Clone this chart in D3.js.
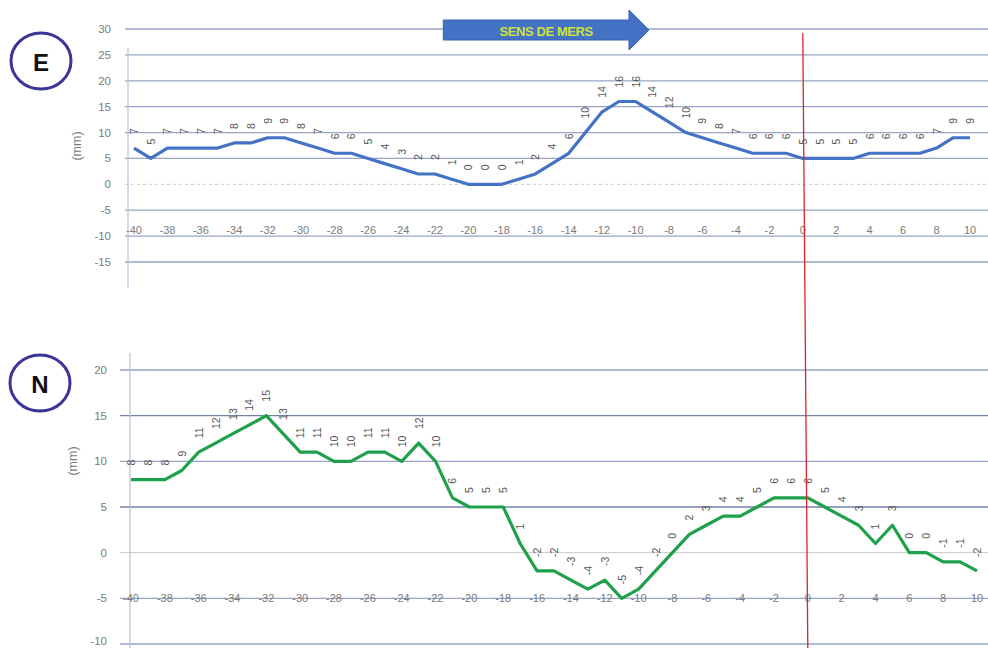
<!DOCTYPE html>
<html>
<head>
<meta charset="utf-8">
<script src="https://cdn.jsdelivr.net/npm/d3@7"></script>
<style>
  body { margin: 0; background: #ffffff; }
  svg { display: block; }
</style>
</head>
<body>
<svg id="chart" width="988" height="648"></svg>
<script>
// Distance along the track (m), one reading per metre
const positions = [-40,-39,-38,-37,-36,-35,-34,-33,-32,-31,-30,-29,-28,-27,-26,-25,-24,-23,-22,-21,
  -20,-19,-18,-17,-16,-15,-14,-13,-12,-11,-10,-9,-8,-7,-6,-5,-4,-3,-2,-1,0,1,2,3,4,5,6,7,8,9,10];

// Displacement, east component (mm)
const seriesE = [7,5,7,7,7,7,8,8,9,9,8,7,6,6,5,4,3,2,2,1,0,0,0,1,2,4,6,10,14,16,16,
  14,12,10,9,8,7,6,6,6,5,5,5,5,6,6,6,6,7,9,9];

// Displacement, north component (mm)
const seriesN = [8,8,8,9,11,12,13,14,15,13,11,11,10,10,11,11,10,12,10,6,5,5,5,1,-2,
  -2,-3,-4,-3,-5,-4,-2,0,2,3,4,4,5,6,6,6,5,4,3,1,3,0,0,-1,-1,-2];

// Axis ticks
const xTicks = [-40,-38,-36,-34,-32,-30,-28,-26,-24,-22,-20,-18,-16,-14,-12,-10,-8,-6,-4,-2,0,2,4,6,8,10];
const yTicksE = [30,25,20,15,10,5,0,-5,-10,-15];
const yTicksN = [20,15,10,5,0,-5,-10];

const svg = d3.select("#chart");
const W = 988, H = 648;

const gridColor = "#98a5c6";
const gridDark = "#7282ab";
const tickColor = "#7a7a7a";
const labelColor = "#555555";

function drawPanel(cfg) {
  const g = svg.append("g");
  const x = d3.scaleLinear().domain([-40, 10]).range(cfg.xRange);
  const y = d3.scaleLinear().domain(cfg.yDomain).range(cfg.yRange);

  // horizontal gridlines
  g.selectAll("line.grid")
    .data(cfg.yTicks)
    .join("line")
    .attr("class", "grid")
    .attr("x1", cfg.gridStart).attr("x2", W)
    .attr("y1", d => y(d)).attr("y2", d => y(d))
    .attr("stroke", d => d === 0 ? "#c8c8c8" : (cfg.darkLines.includes(d) ? gridDark : gridColor))
    .attr("stroke-width", d => d === 0 ? 1 : 1.3)
    .attr("stroke-dasharray", d => (d === 0 && cfg.dottedZero) ? "3,3" : null);

  // vertical value axis
  g.append("line")
    .attr("x1", cfg.axisX).attr("x2", cfg.axisX)
    .attr("y1", cfg.axisTop).attr("y2", cfg.axisBottom)
    .attr("stroke", "#b7c0d8").attr("stroke-width", 1.2);

  // y tick labels (kept inside the page at the lower edge)
  g.selectAll("text.ytick")
    .data(cfg.yTicks)
    .join("text")
    .attr("class", "ytick")
    .attr("x", cfg.yLabelX)
    .attr("y", d => Math.min(y(d), H - 7))
    .attr("text-anchor", "end")
    .attr("dominant-baseline", "central")
    .attr("font-family", "Liberation Sans, Arial, sans-serif")
    .attr("font-size", 11.5)
    .attr("fill", tickColor)
    .text(d => d);

  // axis title
  g.append("text")
    .attr("transform", `translate(${cfg.titleX},${cfg.titleY}) rotate(-90)`)
    .attr("text-anchor", "middle")
    .attr("dominant-baseline", "central")
    .attr("font-family", "Liberation Sans, Arial, sans-serif")
    .attr("font-size", 12.5)
    .attr("fill", tickColor)
    .text("(mm)");

  // x tick labels, sitting on the lower gridline
  g.selectAll("text.xtick")
    .data(xTicks)
    .join("text")
    .attr("class", "xtick")
    .attr("x", d => x(d))
    .attr("y", y(cfg.xLabelLevel) + cfg.xLabelDy)
    .attr("text-anchor", "middle")
    .attr("dominant-baseline", "central")
    .attr("font-family", "Liberation Sans, Arial, sans-serif")
    .attr("font-size", 11)
    .attr("fill", tickColor)
    .text(d => d);

  // series line
  const pts = positions.map((p, i) => [p, cfg.values[i]]);
  const line = d3.line().x(d => x(d[0])).y(d => y(d[1]));
  g.append("path")
    .datum(pts)
    .attr("d", line)
    .attr("fill", "none")
    .attr("stroke", cfg.color)
    .attr("stroke-width", 3.2)
    .attr("stroke-linejoin", "round");

  // value labels, rotated
  g.selectAll("text.val")
    .data(pts)
    .join("text")
    .attr("class", "val")
    .attr("transform", d => `translate(${x(d[0])},${y(d[1]) - 14}) rotate(-90)`)
    .attr("text-anchor", "start")
    .attr("dominant-baseline", "central")
    .attr("font-family", "Liberation Sans, Arial, sans-serif")
    .attr("font-size", 10.5)
    .attr("fill", labelColor)
    .text(d => d[1]);

  // component badge
  g.append("ellipse")
    .attr("cx", cfg.badge[0]).attr("cy", cfg.badge[1])
    .attr("rx", 30).attr("ry", 28)
    .attr("fill", "#ffffff")
    .attr("stroke", "#3a3596").attr("stroke-width", 3);
  g.append("text")
    .attr("x", cfg.badge[0]).attr("y", cfg.badge[1] + 1)
    .attr("text-anchor", "middle")
    .attr("dominant-baseline", "central")
    .attr("font-family", "Liberation Sans, Arial, sans-serif")
    .attr("font-weight", "bold")
    .attr("font-size", 24)
    .attr("fill", "#111111")
    .text(cfg.badgeText);

  return { x, y };
}

const panelE = drawPanel({
  values: seriesE,
  color: "#4472c4",
  xRange: [134, 970],
  yDomain: [-15, 30],
  yRange: [262, 29],
  yTicks: yTicksE,
  darkLines: [],
  dottedZero: true,
  gridStart: 125,
  axisX: 128, axisTop: 48, axisBottom: 288,
  yLabelX: 111,
  titleX: 77, titleY: 146,
  xLabelLevel: -10, xLabelDy: -6,
  badge: [41, 61], badgeText: "E"
});

const panelN = drawPanel({
  values: seriesN,
  color: "#1fa04a",
  xRange: [131, 977],
  yDomain: [-10, 20],
  yRange: [644, 370],
  yTicks: yTicksN,
  darkLines: [15, 5],
  dottedZero: false,
  gridStart: 120,
  axisX: 130, axisTop: 353, axisBottom: 648,
  yLabelX: 107,
  titleX: 73, titleY: 461,
  xLabelLevel: -5, xLabelDy: 0,
  badge: [40, 383], badgeText: "N"
});

// direction-of-travel arrow
const ax0 = panelE.x(-21.5), ax1 = panelE.x(-9.2), ay = panelE.y(30) + 1;
const headLen = 20, bodyH = 10, headH = 20;
const arrow = d3.path();
arrow.moveTo(ax0, ay - bodyH);
arrow.lineTo(ax1 - headLen, ay - bodyH);
arrow.lineTo(ax1 - headLen, ay - headH);
arrow.lineTo(ax1, ay);
arrow.lineTo(ax1 - headLen, ay + headH);
arrow.lineTo(ax1 - headLen, ay + bodyH);
arrow.lineTo(ax0, ay + bodyH);
arrow.closePath();
svg.append("path").attr("d", arrow.toString()).attr("fill", "#4472c4").attr("stroke", "#3a63b0").attr("stroke-width", 1);
svg.append("text")
  .attr("x", (ax0 + ax1 - headLen) / 2 + 10)
  .attr("y", ay + 1)
  .attr("text-anchor", "middle")
  .attr("dominant-baseline", "central")
  .attr("font-family", "Liberation Sans, Arial, sans-serif")
  .attr("font-weight", "bold")
  .attr("font-size", 13)
  .attr("letter-spacing", -0.4)
  .attr("fill", "#cfe23a")
  .text("SENS DE MERS");

// reference position (0 m) across both panels
svg.append("line")
  .attr("x1", panelE.x(0)).attr("y1", 33)
  .attr("x2", panelN.x(0)).attr("y2", 648)
  .attr("stroke", "#e0242a").attr("stroke-width", 1.3);
</script>
</body>
</html>
